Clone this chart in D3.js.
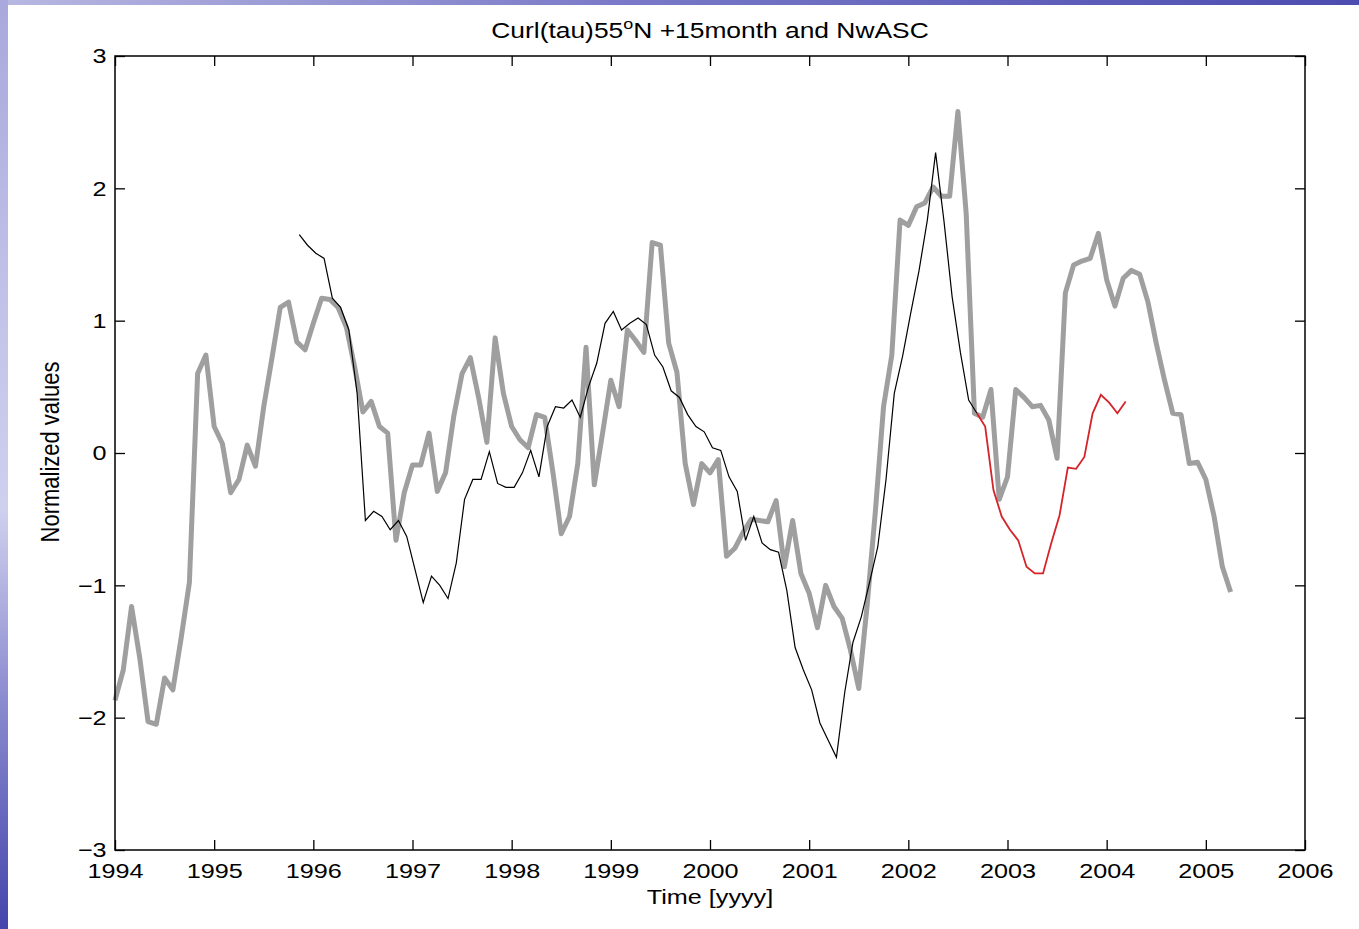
<!DOCTYPE html>
<html>
<head>
<meta charset="utf-8">
<script src="https://cdn.jsdelivr.net/npm/d3@7"></script>
<style>
  body { margin: 0; background: #fff; }
  text { font-family: "Liberation Sans", Arial, Helvetica, sans-serif; fill: #000; }
</style>
</head>
<body>
<script>
  var w = 1359 //page width
  var h = 929 //page height

  //DATA - monthly series, index 0 = first month of each series
  var xTicks = [1994, 1995, 1996, 1997, 1998, 1999, 2000, 2001, 2002, 2003, 2004, 2005, 2006];
  var yTicks = [-3, -2, -1, 0, 1, 2, 3];

  var graySeriesStart = 1994.0; //NwASC
  var graySeries = [
      -1.87, -1.64, -1.16, -1.55, -2.03, -2.05, -1.70, -1.79, -1.40, -0.98,
      0.60, 0.74, 0.20, 0.07, -0.30, -0.20, 0.06, -0.10, 0.35, 0.72,
      1.10, 1.14, 0.84, 0.78, 0.98, 1.17, 1.16, 1.10, 0.95, 0.65,
      0.31, 0.39, 0.20, 0.15, -0.66, -0.30, -0.09, -0.09, 0.15, -0.29,
      -0.15, 0.28, 0.60, 0.72, 0.42, 0.08, 0.87, 0.45, 0.20, 0.10,
      0.04, 0.29, 0.27, -0.15, -0.61, -0.48, -0.08, 0.80, -0.24, 0.15,
      0.55, 0.35, 0.93, 0.85, 0.76, 1.59, 1.57, 0.83, 0.61, -0.08,
      -0.39, -0.08, -0.15, -0.05, -0.78, -0.72, -0.60, -0.50, -0.51, -0.52,
      -0.36, -0.86, -0.51, -0.91, -1.06, -1.32, -1.00, -1.16, -1.25, -1.49,
      -1.78, -1.16, -0.45, 0.35, 0.74, 1.76, 1.72, 1.86, 1.89, 2.01,
      1.94, 1.94, 2.58, 1.81, 0.30, 0.27, 0.48, -0.35, -0.18, 0.48,
      0.42, 0.35, 0.36, 0.25, -0.04, 1.21, 1.42, 1.45, 1.47, 1.66,
      1.31, 1.11, 1.32, 1.38, 1.35, 1.14, 0.83, 0.55, 0.30, 0.29,
      -0.08, -0.07, -0.20, -0.48, -0.86, -1.05
  ];

  var curlSeriesStart = 1994 + 22.3 / 12; //Curl(tau) +15 month
  var curlSeries = [
      1.65, 1.57, 1.51, 1.47, 1.17, 1.10, 0.93, 0.45, -0.51, -0.44,
      -0.48, -0.58, -0.51, -0.63, -0.88, -1.13, -0.93, -1.00, -1.10, -0.83,
      -0.35, -0.20, -0.20, 0.01, -0.23, -0.26, -0.26, -0.15, 0.02, -0.18,
      0.20, 0.35, 0.34, 0.40, 0.27, 0.50, 0.68, 0.98, 1.07, 0.93,
      0.98, 1.02, 0.97, 0.74, 0.65, 0.47, 0.42, 0.29, 0.20, 0.16,
      0.04, 0.02, -0.18, -0.29, -0.66, -0.48, -0.68, -0.73, -0.75, -1.04,
      -1.47, -1.64, -1.79, -2.04, -2.17, -2.30, -1.81, -1.43, -1.24, -0.98,
      -0.71, -0.20, 0.45, 0.73, 1.06, 1.38, 1.76, 2.27, 1.76, 1.18,
      0.76, 0.40, 0.30
  ];

  var forecastStart = 1994 + 104.3 / 12; //red continuation
  var forecastSeries = [
      0.30, 0.20, -0.28, -0.48, -0.58, -0.66, -0.86, -0.91, -0.91, -0.68,
      -0.47, -0.11, -0.12, -0.03, 0.30, 0.44, 0.38, 0.30, 0.39
  ];

  //SCALES
  var x = d3.scaleLinear().domain([1994, 2006]).range([115, 1305]);
  var y = d3.scaleLinear().domain([-3, 3]).range([850, 56]);

  var svg = d3.select("body")
      .append("svg")
      .attr("width", w)
      .attr("height", h);

  //BACKGROUND strips (slide template)
  var defs = svg.append("defs");
  var topGrad = defs.append("linearGradient").attr("id", "topGrad")
      .attr("x1", "0").attr("x2", "1").attr("y1", "0").attr("y2", "0");
  topGrad.append("stop").attr("offset", "0").attr("stop-color", "#b8b8e2");
  topGrad.append("stop").attr("offset", "0.45").attr("stop-color", "#7a7ac8");
  topGrad.append("stop").attr("offset", "1").attr("stop-color", "#4c4cb0");
  var leftGrad = defs.append("linearGradient").attr("id", "leftGrad")
      .attr("x1", "0").attr("x2", "0").attr("y1", "0").attr("y2", "1");
  leftGrad.append("stop").attr("offset", "0").attr("stop-color", "#a8a8dc");
  leftGrad.append("stop").attr("offset", "0.35").attr("stop-color", "#c4c4ea");
  leftGrad.append("stop").attr("offset", "0.55").attr("stop-color", "#cfcfee");
  leftGrad.append("stop").attr("offset", "0.75").attr("stop-color", "#8c8cd0");
  leftGrad.append("stop").attr("offset", "1").attr("stop-color", "#4444ac");

  svg.append("rect").attr("x", 0).attr("y", 0).attr("width", w).attr("height", 5)
      .attr("fill", "url(#topGrad)");
  svg.append("rect").attr("x", 0).attr("y", 0).attr("width", 8).attr("height", h)
      .attr("fill", "url(#leftGrad)");

  //LINES
  var lineFrom = function (start) {
      return d3.line()
          .x(function (d, i) { return x(start + i / 12); })
          .y(function (d) { return y(d); });
  };

  svg.append("path")
      .datum(graySeries)
      .attr("d", lineFrom(graySeriesStart))
      .attr("fill", "none")
      .attr("stroke", "#9f9f9f")
      .attr("stroke-width", 5)
      .attr("stroke-linejoin", "round");

  svg.append("path")
      .datum(curlSeries)
      .attr("d", lineFrom(curlSeriesStart))
      .attr("fill", "none")
      .attr("stroke", "#000")
      .attr("stroke-width", 1.2);

  svg.append("path")
      .datum(forecastSeries)
      .attr("d", lineFrom(forecastStart))
      .attr("fill", "none")
      .attr("stroke", "#d4242a")
      .attr("stroke-width", 1.8);

  //AXES - ticks inward on all four sides
  var stretch = "scale(1.2,1)"; //original figure is stretched horizontally

  svg.append("g")
      .attr("transform", "translate(0,850)")
      .call(d3.axisBottom(x).tickValues(xTicks).tickFormat(d3.format("d"))
          .tickSizeInner(-10).tickSizeOuter(0).tickPadding(13));
  svg.append("g")
      .attr("transform", "translate(115,0)")
      .call(d3.axisLeft(y).tickValues(yTicks).tickFormat(d3.format("d"))
          .tickSizeInner(-10).tickSizeOuter(0).tickPadding(7));
  svg.append("g")
      .attr("transform", "translate(0,56)")
      .call(d3.axisTop(x).tickValues(xTicks).tickFormat("")
          .tickSizeInner(-10).tickSizeOuter(0));
  svg.append("g")
      .attr("transform", "translate(1305,0)")
      .call(d3.axisRight(y).tickValues(yTicks).tickFormat("")
          .tickSizeInner(-10).tickSizeOuter(0));

  svg.selectAll(".domain").remove();
  svg.selectAll(".tick line").attr("stroke", "#000").attr("stroke-width", 1.3);
  svg.selectAll(".tick text")
      .attr("font-family", null)
      .style("font-size", "21px")
      .attr("transform", stretch);

  svg.append("rect")
      .attr("x", x(1994)).attr("y", y(3))
      .attr("width", x(2006) - x(1994)).attr("height", y(-3) - y(3))
      .attr("fill", "none").attr("stroke", "#000").attr("stroke-width", 1.5);

  //LABELS
  var title = svg.append("text")
      .attr("transform", "translate(710,38) " + stretch)
      .attr("text-anchor", "middle")
      .style("font-size", "22px");
  title.append("tspan").text("Curl(tau)55");
  title.append("tspan").attr("dy", -9).style("font-size", "15px").text("o");
  title.append("tspan").attr("dy", 9).text("N +15month and NwASC");

  svg.append("text")
      .attr("transform", "translate(710,904) " + stretch)
      .attr("text-anchor", "middle")
      .style("font-size", "21px")
      .text("Time [yyyy]");

  svg.append("text")
      .attr("transform", "translate(59,452) " + stretch + " rotate(-90)")
      .attr("text-anchor", "middle")
      .style("font-size", "22px")
      .text("Normalized values");
</script>
</body>
</html>
